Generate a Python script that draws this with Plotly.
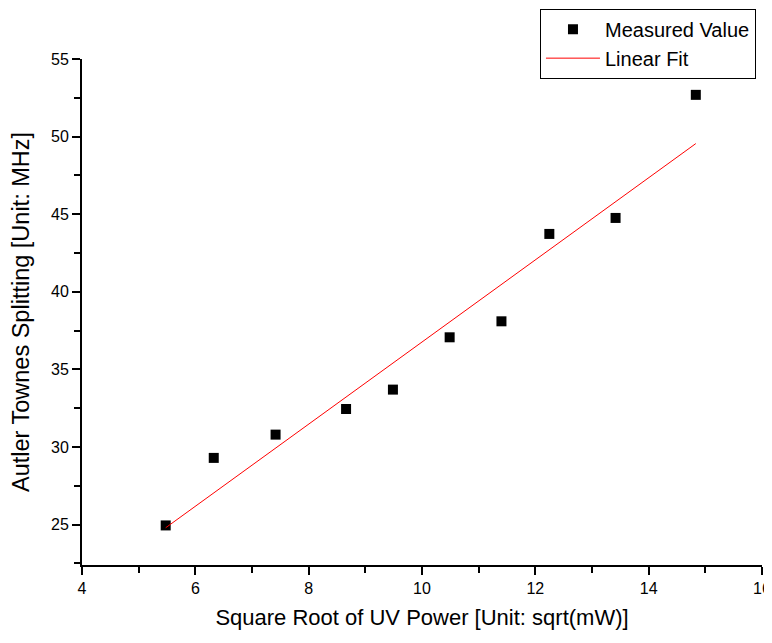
import plotly.graph_objects as go

# Data
sqrt_power = [5.477, 6.325, 7.416, 8.660, 9.487, 10.488, 11.402, 12.247, 13.416, 14.832]
splitting = [24.95, 29.30, 30.80, 32.45, 33.70, 37.07, 38.10, 43.73, 44.76, 52.69]

fit_x = [5.477, 14.832]
fit_y = [24.80, 49.55]

x_ticks = [4, 6, 8, 10, 12, 14, 16]
y_ticks = [25, 30, 35, 40, 45, 50, 55]

FONT = "Liberation Sans, Arial, sans-serif"

fig = go.Figure()
fig.add_trace(go.Scatter(
    x=sqrt_power, y=splitting, mode="markers", name="Measured Value",
    marker=dict(symbol="square", size=10, color="black", line=dict(width=0)),
))
fig.add_trace(go.Scatter(
    x=fit_x, y=fit_y, mode="lines", name="Linear Fit",
    line=dict(color="#ff0000", width=1),
))

axis_common = dict(
    showline=True, linecolor="black", linewidth=2, mirror=False,
    showgrid=False, zeroline=False, automargin=False,
    ticks="outside", ticklen=8, tickwidth=2, tickcolor="black",
    tickfont=dict(family=FONT, size=16, color="black"),
    ticklabeloverflow="allow",
)

fig.update_xaxes(
    range=[4, 16], tickvals=x_ticks,
    minor=dict(dtick=1, ticks="outside", ticklen=6, tickwidth=2, tickcolor="black"),
    title=dict(text="Square Root of UV Power [Unit: sqrt(mW)]",
               font=dict(family=FONT, size=22, color="black"), standoff=20),
    **axis_common,
)
fig.update_yaxes(
    range=[22.4, 55], tickvals=y_ticks,
    minor=dict(tick0=22.5, dtick=5, ticks="outside", ticklen=6, tickwidth=2, tickcolor="black"),
    title=dict(text="Autler Townes Splitting [Unit: MHz]",
               font=dict(family=FONT, size=23.5, color="black"), standoff=20),
    **axis_common,
)

# The page body adds an 8px margin, so the figure is sized to fit the window without scrolling
fig.update_layout(
    width=764, height=622,
    margin=dict(l=74, r=10, t=51, b=65, autoexpand=False),
    plot_bgcolor="white", paper_bgcolor="white",
    font=dict(family=FONT, color="black"),
    showlegend=True,
    legend=dict(
        x=0.6735, xanchor="left",
        y=1.0995, yanchor="top",
        bordercolor="black", borderwidth=1, bgcolor="white",
        font=dict(family=FONT, size=20, color="black"),
        tracegroupgap=0, itemwidth=54,
    ),
)

fig.write_html("out.html")
